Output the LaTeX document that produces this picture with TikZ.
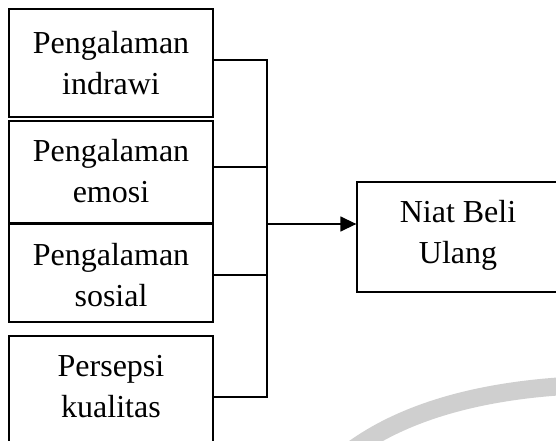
\documentclass[tikz,border=0pt]{standalone}
\usepackage{fontspec}
\setmainfont{Liberation Serif}
\usetikzlibrary{arrows.meta}
\begin{document}
\begin{tikzpicture}[x=1pt,y=-1pt,
  box/.style={draw, line width=1.3pt, inner sep=0pt},
  lbl/.style={inner sep=0pt, align=center, anchor=north, font=\fontsize{32}{41}\selectfont},
  wire/.style={line width=1.4pt},
  mark2/.style={draw=black!19, line width=18pt}]
\useasboundingbox (0,0) rectangle (556,441);
\clip (0,0) rectangle (556,441);
% faint watermark arc
\draw[mark2] (352,450) .. controls (400,415) and (470,392) .. (565,386);
% boxes
\node[box, minimum width=204pt, minimum height=108pt] (b1) at (111,63) {};
\node[box, minimum width=204pt, minimum height=102pt] (b2) at (111,172) {};
\node[box, minimum width=204pt, minimum height=98pt] (b3) at (111,273) {};
\node[box, minimum width=204pt, minimum height=110pt] (b4) at (111,391) {};
\node[box, minimum width=203pt, minimum height=110pt] (niat) at (458.5,237) {};
% labels
\node[lbl] (t1) at (111,31) {Pengalaman\\indrawi};
\node[lbl] (t2) at (111,139.5) {Pengalaman\\emosi};
\node[lbl] (t3) at (111,243.5) {Pengalaman\\sosial};
\node[lbl] (t4) at (111,355.5) {Persepsi\\kualitas};
\node[lbl] (tn) at (458,200.5) {Niat Beli\\Ulang};
% connectors
\coordinate (j1) at (267,60);
\coordinate (j2) at (267,167);
\coordinate (j3) at (267,275);
\coordinate (j4) at (267,397);
\coordinate (ja) at (267,224);
\draw[wire] (b1.east |- j1) -- (j1) -- (j4) -- (b4.east |- j4);
\draw[wire] (b2.east |- j2) -- (j2);
\draw[wire] (b3.east |- j3) -- (j3);
\draw[wire, -{Triangle[length=16pt,width=15pt]}] (ja) -- (niat.west |- ja);
\end{tikzpicture}
\end{document}
